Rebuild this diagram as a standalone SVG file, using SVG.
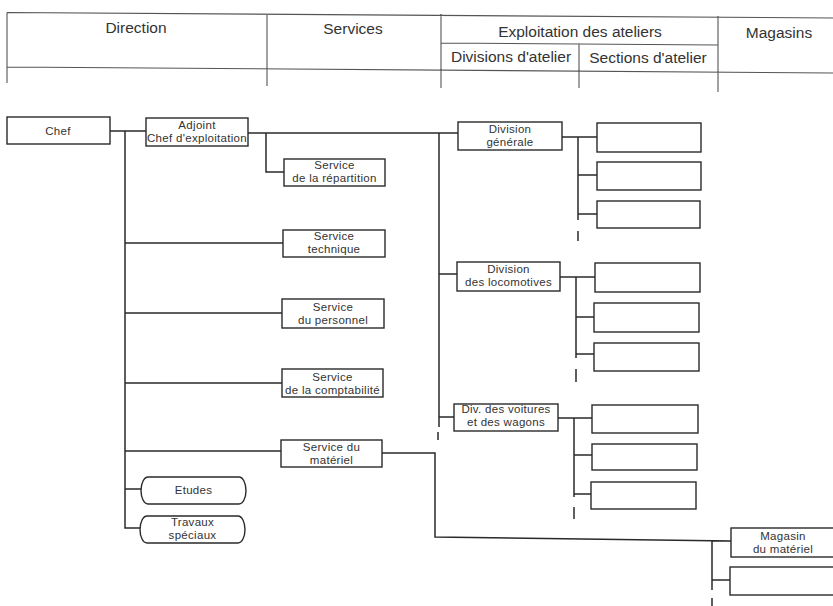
<svg xmlns="http://www.w3.org/2000/svg" width="833" height="606" viewBox="0 0 833 606">
<style>
.hd{fill:none;stroke:#555;stroke-width:1.1}
.ht{font-family:"Liberation Sans",Arial,sans-serif;font-size:15.5px;fill:#333;text-anchor:middle}
.bx{fill:#fff;stroke:#2a2a2a;stroke-width:1.4}
.t{font-family:"Liberation Sans",Arial,sans-serif;font-size:11.5px;fill:#333;text-anchor:middle;letter-spacing:0.3px}
.ln{fill:none;stroke:#2a2a2a;stroke-width:1.5}
</style>
<rect width="833" height="606" fill="#fff"/>
<g id="header">
<path class="hd" d="M7,12.5 L833,18 M7,67 L833,73 M441,43 L718,45 M7,12.5 V83 M267,14 V86 M441,14 V88 M579,43.5 V88 M718,16 V92"/>
<text class="ht" x="136" y="33">Direction</text>
<text class="ht" x="353" y="34">Services</text>
<text class="ht" x="580" y="37">Exploitation des ateliers</text>
<text class="ht" x="511" y="62">Divisions d'atelier</text>
<text class="ht" x="648" y="63">Sections d'atelier</text>
<text class="ht" x="779" y="38">Magasins</text>
</g>
<g id="connectors">
<path class="ln" d="M110,131 H146 M125,131 V528 H140 M125,489 H141 M125,243 H283 M125,313 H282 M125,383 H282 M125,451 H281"/>
<path class="ln" d="M248,133 H458 M266,133 V172 H284"/>
<path class="ln" d="M439,133 V427 M439,274 H457 M439,417 H454 M438,432 V440"/>
<path class="ln" d="M562,137 H597 M578,137 V220 M578,175 H597 M578,214 H597 M578,231 V241"/>
<path class="ln" d="M560,277 H595 M576,277 V358 M576,317 H594 M576,354 H594 M576,369 V382"/>
<path class="ln" d="M558,418 H592 M574,418 V497 M574,455 H592 M574,494 H591 M574,507 V519"/>
<path class="ln" d="M382,453 H435 V537 L731,541 M712,541 V590 M712,580 H730 M712,598 V606"/>
</g>
<g id="chef"><rect class="bx" x="7" y="117" width="103" height="27"/><text class="t" x="58" y="135">Chef</text></g>
<g id="adjoint"><rect class="bx" x="146" y="118" width="102" height="28"/><text class="t" x="197" y="128.5">Adjoint</text><text class="t" x="197" y="141.5">Chef d'exploitation</text></g>
<g id="repartition"><rect class="bx" x="284" y="159" width="101" height="27"/><text class="t" x="334.5" y="169">Service</text><text class="t" x="334.5" y="182">de la répartition</text></g>
<g id="technique"><rect class="bx" x="283" y="230" width="102" height="27"/><text class="t" x="334" y="240">Service</text><text class="t" x="334" y="253">technique</text></g>
<g id="personnel"><rect class="bx" x="282" y="299" width="102" height="29"/><text class="t" x="333" y="310.5">Service</text><text class="t" x="333" y="323.5">du personnel</text></g>
<g id="comptabilite"><rect class="bx" x="282" y="369" width="101" height="28"/><text class="t" x="332.5" y="380.5">Service</text><text class="t" x="332.5" y="393.5">de la comptabilité</text></g>
<g id="materiel"><rect class="bx" x="281" y="440" width="101" height="27"/><text class="t" x="331.5" y="450.5">Service du</text><text class="t" x="331.5" y="463.5">matériel</text></g>
<g id="etudes"><rect class="bx" x="141" y="477" width="105" height="27" rx="7" ry="13.5"/><text class="t" x="193.5" y="494">Etudes</text></g>
<g id="travaux"><rect class="bx" x="140" y="516" width="105" height="27" rx="7" ry="13.5"/><text class="t" x="192.5" y="526">Travaux</text><text class="t" x="192.5" y="539">spéciaux</text></g>
<g id="div-generale"><rect class="bx" x="458" y="122" width="104" height="28"/><text class="t" x="510" y="132.5">Division</text><text class="t" x="510" y="145.5">générale</text></g>
<g id="div-locomotives"><rect class="bx" x="457" y="262" width="103" height="29"/><text class="t" x="508.5" y="273">Division</text><text class="t" x="508.5" y="286">des locomotives</text></g>
<g id="div-voitures"><rect class="bx" x="454" y="404" width="104" height="27"/><text class="t" x="506" y="412.5">Div. des voitures</text><text class="t" x="506" y="426">et des wagons</text></g>
<g id="sec-g1"><rect class="bx" x="597" y="123" width="104" height="29"/></g>
<g id="sec-g2"><rect class="bx" x="597" y="162" width="104" height="28"/></g>
<g id="sec-g3"><rect class="bx" x="597" y="201" width="103" height="27"/></g>
<g id="sec-l1"><rect class="bx" x="595" y="263" width="105" height="29"/></g>
<g id="sec-l2"><rect class="bx" x="594" y="303" width="105" height="29"/></g>
<g id="sec-l3"><rect class="bx" x="594" y="343" width="105" height="28"/></g>
<g id="sec-v1"><rect class="bx" x="592" y="405" width="106" height="28"/></g>
<g id="sec-v2"><rect class="bx" x="592" y="444" width="105" height="26"/></g>
<g id="sec-v3"><rect class="bx" x="591" y="482" width="105" height="27"/></g>
<g id="magasin-materiel"><rect class="bx" x="731" y="528" width="104" height="29"/><text class="t" x="783" y="540">Magasin</text><text class="t" x="783" y="552.5">du matériel</text></g>
<g id="magasin-2"><rect class="bx" x="730" y="567" width="105" height="28"/></g>
</svg>
